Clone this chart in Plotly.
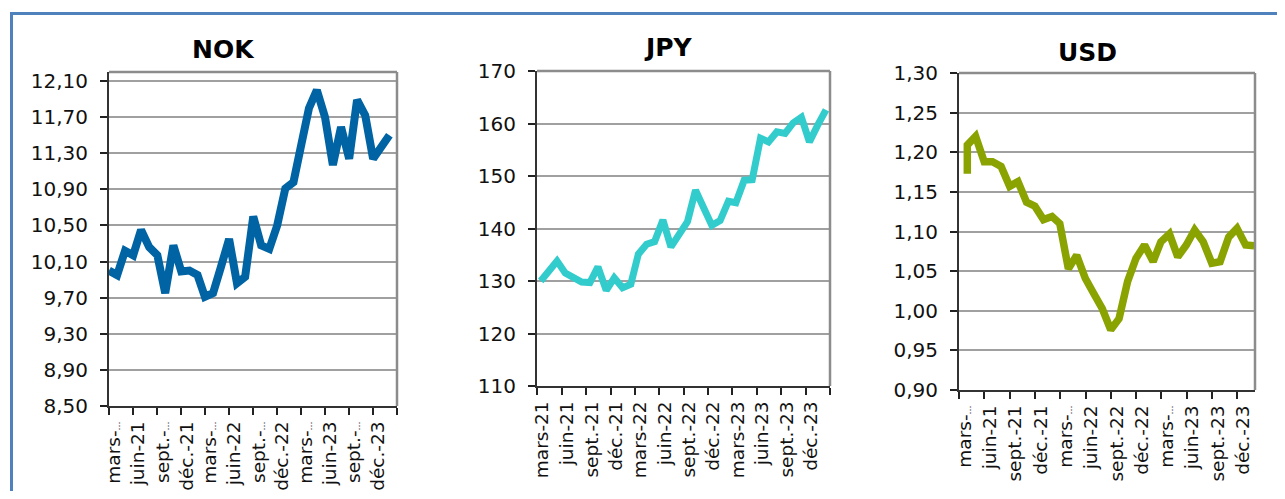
import plotly.graph_objects as go
import pandas as pd

W, H = 1285, 499
OFF = 8  # the page body margin

# monthly values
nok_vals = [10.00, 9.95, 10.22, 10.17, 10.45, 10.26, 10.17, 9.75, 10.28, 9.99, 10.00, 9.95,
            9.71, 9.75, 10.04, 10.35, 9.86, 9.93, 10.60, 10.28, 10.24, 10.50, 10.91, 10.98,
            11.37, 11.80, 12.00, 11.70, 11.17, 11.59, 11.24, 11.89, 11.72, 11.24, 11.37, 11.50]
jpy_vals = [130.0, 131.9, 133.8, 131.5, 130.5, 129.8, 129.7, 132.7, 128.2, 130.6, 128.7, 129.4,
            135.1, 137.0, 137.5, 141.6, 136.5, 138.7, 141.3, 147.3, 144.1, 140.6, 141.5, 145.2,
            144.9, 149.2, 149.3, 157.2, 156.5, 158.4, 158.1, 160.1, 161.2, 156.5, 159.7, 162.6]
usd_vals = [1.173, 1.209, 1.220, 1.188, 1.188, 1.182, 1.157, 1.163, 1.137, 1.132, 1.115, 1.119,
            1.110, 1.053, 1.070, 1.041, 1.022, 1.003, 0.976, 0.990, 1.037, 1.066, 1.083, 1.062,
            1.087, 1.097, 1.068, 1.083, 1.102, 1.087, 1.060, 1.062, 1.093, 1.104, 1.083, 1.082]

nok_dates = pd.date_range("2021-03-01", periods=36, freq="MS")
jpy_dates = nok_dates + pd.Timedelta(days=14)
usd_month_ends = pd.date_range("2021-03-01", periods=35, freq="MS") + pd.offsets.MonthEnd(0)
usd_dates = [usd_month_ends[0]] + list(usd_month_ends)

tick_dates = pd.date_range("2021-03-01", periods=12, freq="3MS")
label_dates = tick_dates + pd.Timedelta(days=20)  # excel puts the text just right of the tick
ELL = "<span style='font-size:9px'>…</span>"  # excel's cut-off marker is tiny
nok_labels = ["mars-" + ELL, "juin-21", "sept.-" + ELL, "déc.-21", "mars-" + ELL, "juin-22",
              "sept.-" + ELL, "déc.-22", "mars-" + ELL, "juin-23", "sept.-" + ELL, "déc.-23"]
jpy_labels = ["mars-21", "juin-21", "sept.-21", "déc.-21", "mars-22", "juin-22",
              "sept.-22", "déc.-22", "mars-23", "juin-23", "sept.-23", "déc.-23"]
usd_labels = ["mars-" + ELL, "juin-21", "sept.-21", "déc.-21", "mars-" + ELL, "juin-22",
              "sept.-22", "déc.-22", "mars-" + ELL, "juin-23", "sept.-23", "déc.-23"]

FW, FH = W - 2 * OFF, H - 2 * OFF


def px(x):
    return (x - OFF) / FW


def py(y):
    return 1 - (y - OFF) / FH


FONT = "DejaVu Sans"

panels = [
    # name, dates, values, colour, width, labels, x px, y px, x range, y range, dtick, fmt
    ("NOK", nok_dates, nok_vals, "#0063A3", 8, nok_labels, (109, 397), (72, 406),
     ["2021-03-01", "2024-03-01"], [8.5, 12.2], 0.4, ".2f", 8.5),
    ("JPY", jpy_dates, jpy_vals, "#33CCCC", 7, jpy_labels, (537, 830), (71, 386),
     ["2021-03-01", "2024-03-01"], [110, 170], 10, "d", 110),
    ("USD", usd_dates, usd_vals, "#8AA300", 7.5, usd_labels, (959, 1255), (73, 390),
     ["2021-03-01", "2024-02-03"], [0.9, 1.3], 0.05, ".2f", 0.9),
]

title_pos = {"NOK": (223, 50), "JPY": (668, 47), "USD": (1087, 52)}

fig = go.Figure()
shapes = []
annotations = []

for i, (name, dates, vals, col, lw, labels, xr, yr, xrange, yrange, dt, fmt, t0) in enumerate(panels):
    n = "" if i == 0 else str(i + 1)
    fig.add_trace(go.Scatter(x=dates, y=vals, mode="lines",
                             line=dict(color=col, width=lw),
                             xaxis="x" + n, yaxis="y" + n, showlegend=False))

    fig.update_layout(**{
        "xaxis" + n: dict(
            domain=[px(xr[0]), px(xr[1])], anchor="y" + n, type="date", range=xrange,
            automargin=False,
            tickmode="array", tickvals=label_dates, ticktext=labels, tickangle=-90,
            ticks="", ticklabelstandoff=6,
            minor=dict(ticks="outside", ticklen=7, tickwidth=1.5, tickcolor="#222",
                       tick0="2021-03-01", dtick="M3", showgrid=False),
            showgrid=False, showline=True, linecolor="#333", linewidth=2,
            tickfont=dict(family=FONT, size=18.5, color="#111"),
        ),
        "yaxis" + n: dict(
            domain=[py(yr[1]), py(yr[0])], anchor="x" + n, range=yrange,
            automargin=False,
            tick0=t0, dtick=dt, tickformat=fmt,
            ticks="outside", ticklen=7, tickwidth=1.5, tickcolor="#222",
            ticklabelstandoff=8,
            showgrid=True, gridcolor="#A0A0A0", gridwidth=1.5,
            showline=True, linecolor="#333", linewidth=2, zeroline=False,
            tickfont=dict(family=FONT, size=20, color="#111"),
        ),
    })

    # grey frame on top and right of the plot area
    shapes.append(dict(type="line", xref="x%s domain" % n, yref="y%s domain" % n,
                       x0=0, x1=1, y0=1, y1=1, line=dict(color="#8C8C8C", width=2.5)))
    shapes.append(dict(type="line", xref="x%s domain" % n, yref="y%s domain" % n,
                       x0=1, x1=1, y0=0, y1=1, line=dict(color="#8C8C8C", width=2.5)))

    tx, ty = title_pos[name]
    annotations.append(dict(text="<b>%s</b>" % name, x=px(tx), y=py(ty), xref="paper", yref="paper",
                            showarrow=False, xanchor="center", yanchor="middle",
                            font=dict(family=FONT, size=25, color="#000")))

# blue outer frame
shapes.append(dict(type="rect", xref="paper", yref="paper",
                   x0=px(11.5), x1=px(W + 20), y0=py(13.5), y1=py(H + 20),
                   line=dict(color="#4F81BD", width=3)))

fig.update_layout(
    width=FW, height=FH, margin=dict(l=0, r=0, t=0, b=0, pad=0, autoexpand=False),
    plot_bgcolor="white", paper_bgcolor="white",
    separators=", ", shapes=shapes, annotations=annotations,
    font=dict(family=FONT),
)

fig.write_html("out.html")
